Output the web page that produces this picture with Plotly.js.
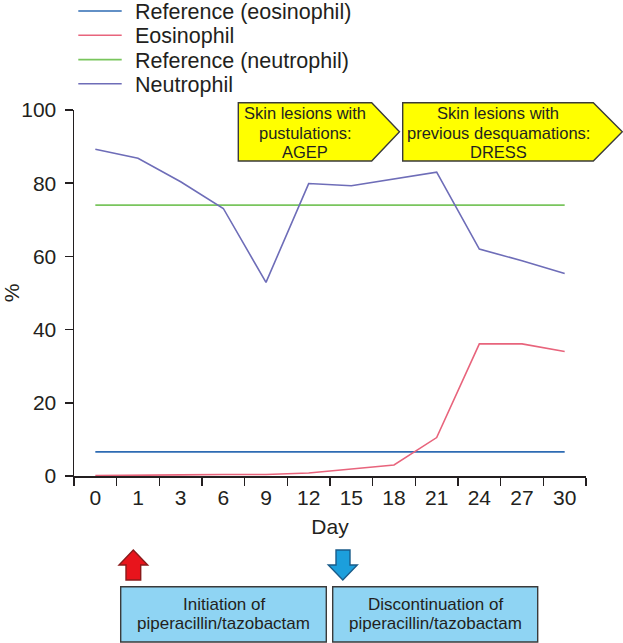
<!DOCTYPE html>
<html>
<head>
<meta charset="utf-8">
<script src="https://cdn.plot.ly/plotly-3.0.1.min.js"></script>
<style>html,body{margin:0;padding:0;background:#fff}#chart{width:623px;height:643px}</style>
</head>
<body>
<div id="chart"></div>
<script>
// ---- data ----
var days = ['0','1','3','6','9','12','15','18','21','24','27','30'];
var refEosinophil = [6.6,6.6,6.6,6.6,6.6,6.6,6.6,6.6,6.6,6.6,6.6,6.6];
var eosinophil = [0.1,0.1,0.3,0.4,0.4,0.8,1.9,3.0,10.5,36.1,36.1,34.0];
var refNeutrophil = [74,74,74,74,74,74,74,74,74,74,74,74];
var neutrophil = [89.3,86.8,80.4,73.1,52.9,79.9,79.3,81.1,83.0,62.0,58.8,55.3];
var seriesNames = ['Reference (eosinophil)','Eosinophil','Reference (neutrophil)','Neutrophil'];
var agepLines = ['Skin lesions with','pustulations:','AGEP'];
var dressLines = ['Skin lesions with','previous desquamations:','DRESS'];
var startLines = ['Initiation of','piperacillin/tazobactam'];
var stopLines = ['Discontinuation of','piperacillin/tazobactam'];

var FONT = 'Liberation Sans, Arial, sans-serif';
var TXT = '#231f20';
var colors = ['#2e6bb3','#e8647c','#79c55d','#6e6db8'];
var values = [refEosinophil, eosinophil, refNeutrophil, neutrophil];

var traces = values.map(function(v,i){
  return {x: days, y: v, type:'scatter', mode:'lines', name: seriesNames[i],
          line:{color: colors[i], width:1.6}, hoverinfo:'skip', showlegend:false};
});

// paper-coordinate helpers (plot area: x 74..586 px, y 110..476 px)
function px(v){ return (v-74)/512; }
function py(v){ return (476-v)/366; }

var shapes = [];
function poly(pts, fill, lineColor){
  var d = pts.map(function(p,i){ return (i?'L':'M')+px(p[0]).toFixed(5)+','+py(p[1]).toFixed(5); }).join(' ')+' Z';
  shapes.push({type:'path', xref:'paper', yref:'paper', path:d, fillcolor:fill,
               line:{color:lineColor, width:1.4}, layer:'above'});
}
// yellow pentagon labels
poly([[238.3,102.7],[371.7,102.7],[399.5,131.8],[371.7,161],[238.3,161]], '#ffff00', '#3a3a3a');
poly([[402.7,102.7],[593.3,102.7],[622.3,131.8],[593.3,161],[402.7,161]], '#ffff00', '#3a3a3a');
// arrows
poly([[133.3,550],[147.7,565],[140.7,565],[140.7,580],[126,580],[126,565],[119,565]], '#e8141c', '#8a1a1a');
poly([[336,550],[350,550],[350,565],[357.3,565],[342.8,580],[328.3,565],[336,565]], '#1c9fdc', '#1a5c8a');
// blue boxes
poly([[120.7,586.7],[326.3,586.7],[326.3,642],[120.7,642]], '#8fd4f3', '#3a3a3a');
poly([[332.7,586.7],[537.7,586.7],[537.7,642],[332.7,642]], '#8fd4f3', '#3a3a3a');

var annotations = [];
function lines(arr, cx, ys, size){
  arr.forEach(function(t,i){
    annotations.push({xref:'paper', yref:'paper', x:px(cx), y:py(ys[i]), text:t, showarrow:false,
      xanchor:'center', yanchor:'middle', font:{family:FONT, size:size, color:TXT}});
  });
}
lines(agepLines, 305, [113.3,132.7,151.5], 16.5);
lines(dressLines, 498, [113.3,132.7,151.5], 16.5);
lines(startLines, 223.5, [604,623], 17);
lines(stopLines, 435.2, [604,623], 17);

// legend (drawn as key lines + text at the top left)
var legendRows = [11, 35.3, 59.6, 83.8];
seriesNames.forEach(function(name,i){
  shapes.push({type:'line', xref:'paper', yref:'paper', x0:px(78.3), x1:px(121.7),
               y0:py(legendRows[i]), y1:py(legendRows[i]), line:{color:colors[i], width:1.6}});
  annotations.push({xref:'paper', yref:'paper', x:px(133), y:py(legendRows[i]+1), text:name, showarrow:false,
      xanchor:'left', yanchor:'middle', font:{family:FONT, size:21.5, color:TXT}});
});

var layout = {
  width:623, height:643,
  margin:{l:74, r:37, t:110, b:167, autoexpand:false},
  paper_bgcolor:'#fff', plot_bgcolor:'#fff',
  font:{family:FONT, color:TXT, size:21},
  showlegend:false,
  xaxis:{type:'category', range:[-0.5,11.5], tickson:'boundaries', ticks:'outside', ticklen:8, tickwidth:1.5,
         tickcolor:TXT, showline:true, linecolor:TXT, linewidth:1.5, showgrid:false, zeroline:false,
         tickfont:{family:FONT, size:21, color:TXT}, ticklabelstandoff:2, fixedrange:true,
         title:{text:'Day', font:{family:FONT, size:21, color:TXT}, standoff:11}},
  yaxis:{range:[0,100], dtick:20, ticks:'outside', ticklen:8, tickwidth:1.5, tickcolor:TXT,
         showline:true, linecolor:TXT, linewidth:1.5, showgrid:false, zeroline:false,
         tickfont:{family:FONT, size:21, color:TXT}, ticklabelstandoff:4, fixedrange:true,
         title:{text:'%', font:{family:FONT, size:21, color:TXT}, standoff:4}},
  shapes:shapes,
  annotations:annotations
};
Plotly.newPlot('chart', traces, layout, {displayModeBar:false, staticPlot:true});
</script>
</body>
</html>
